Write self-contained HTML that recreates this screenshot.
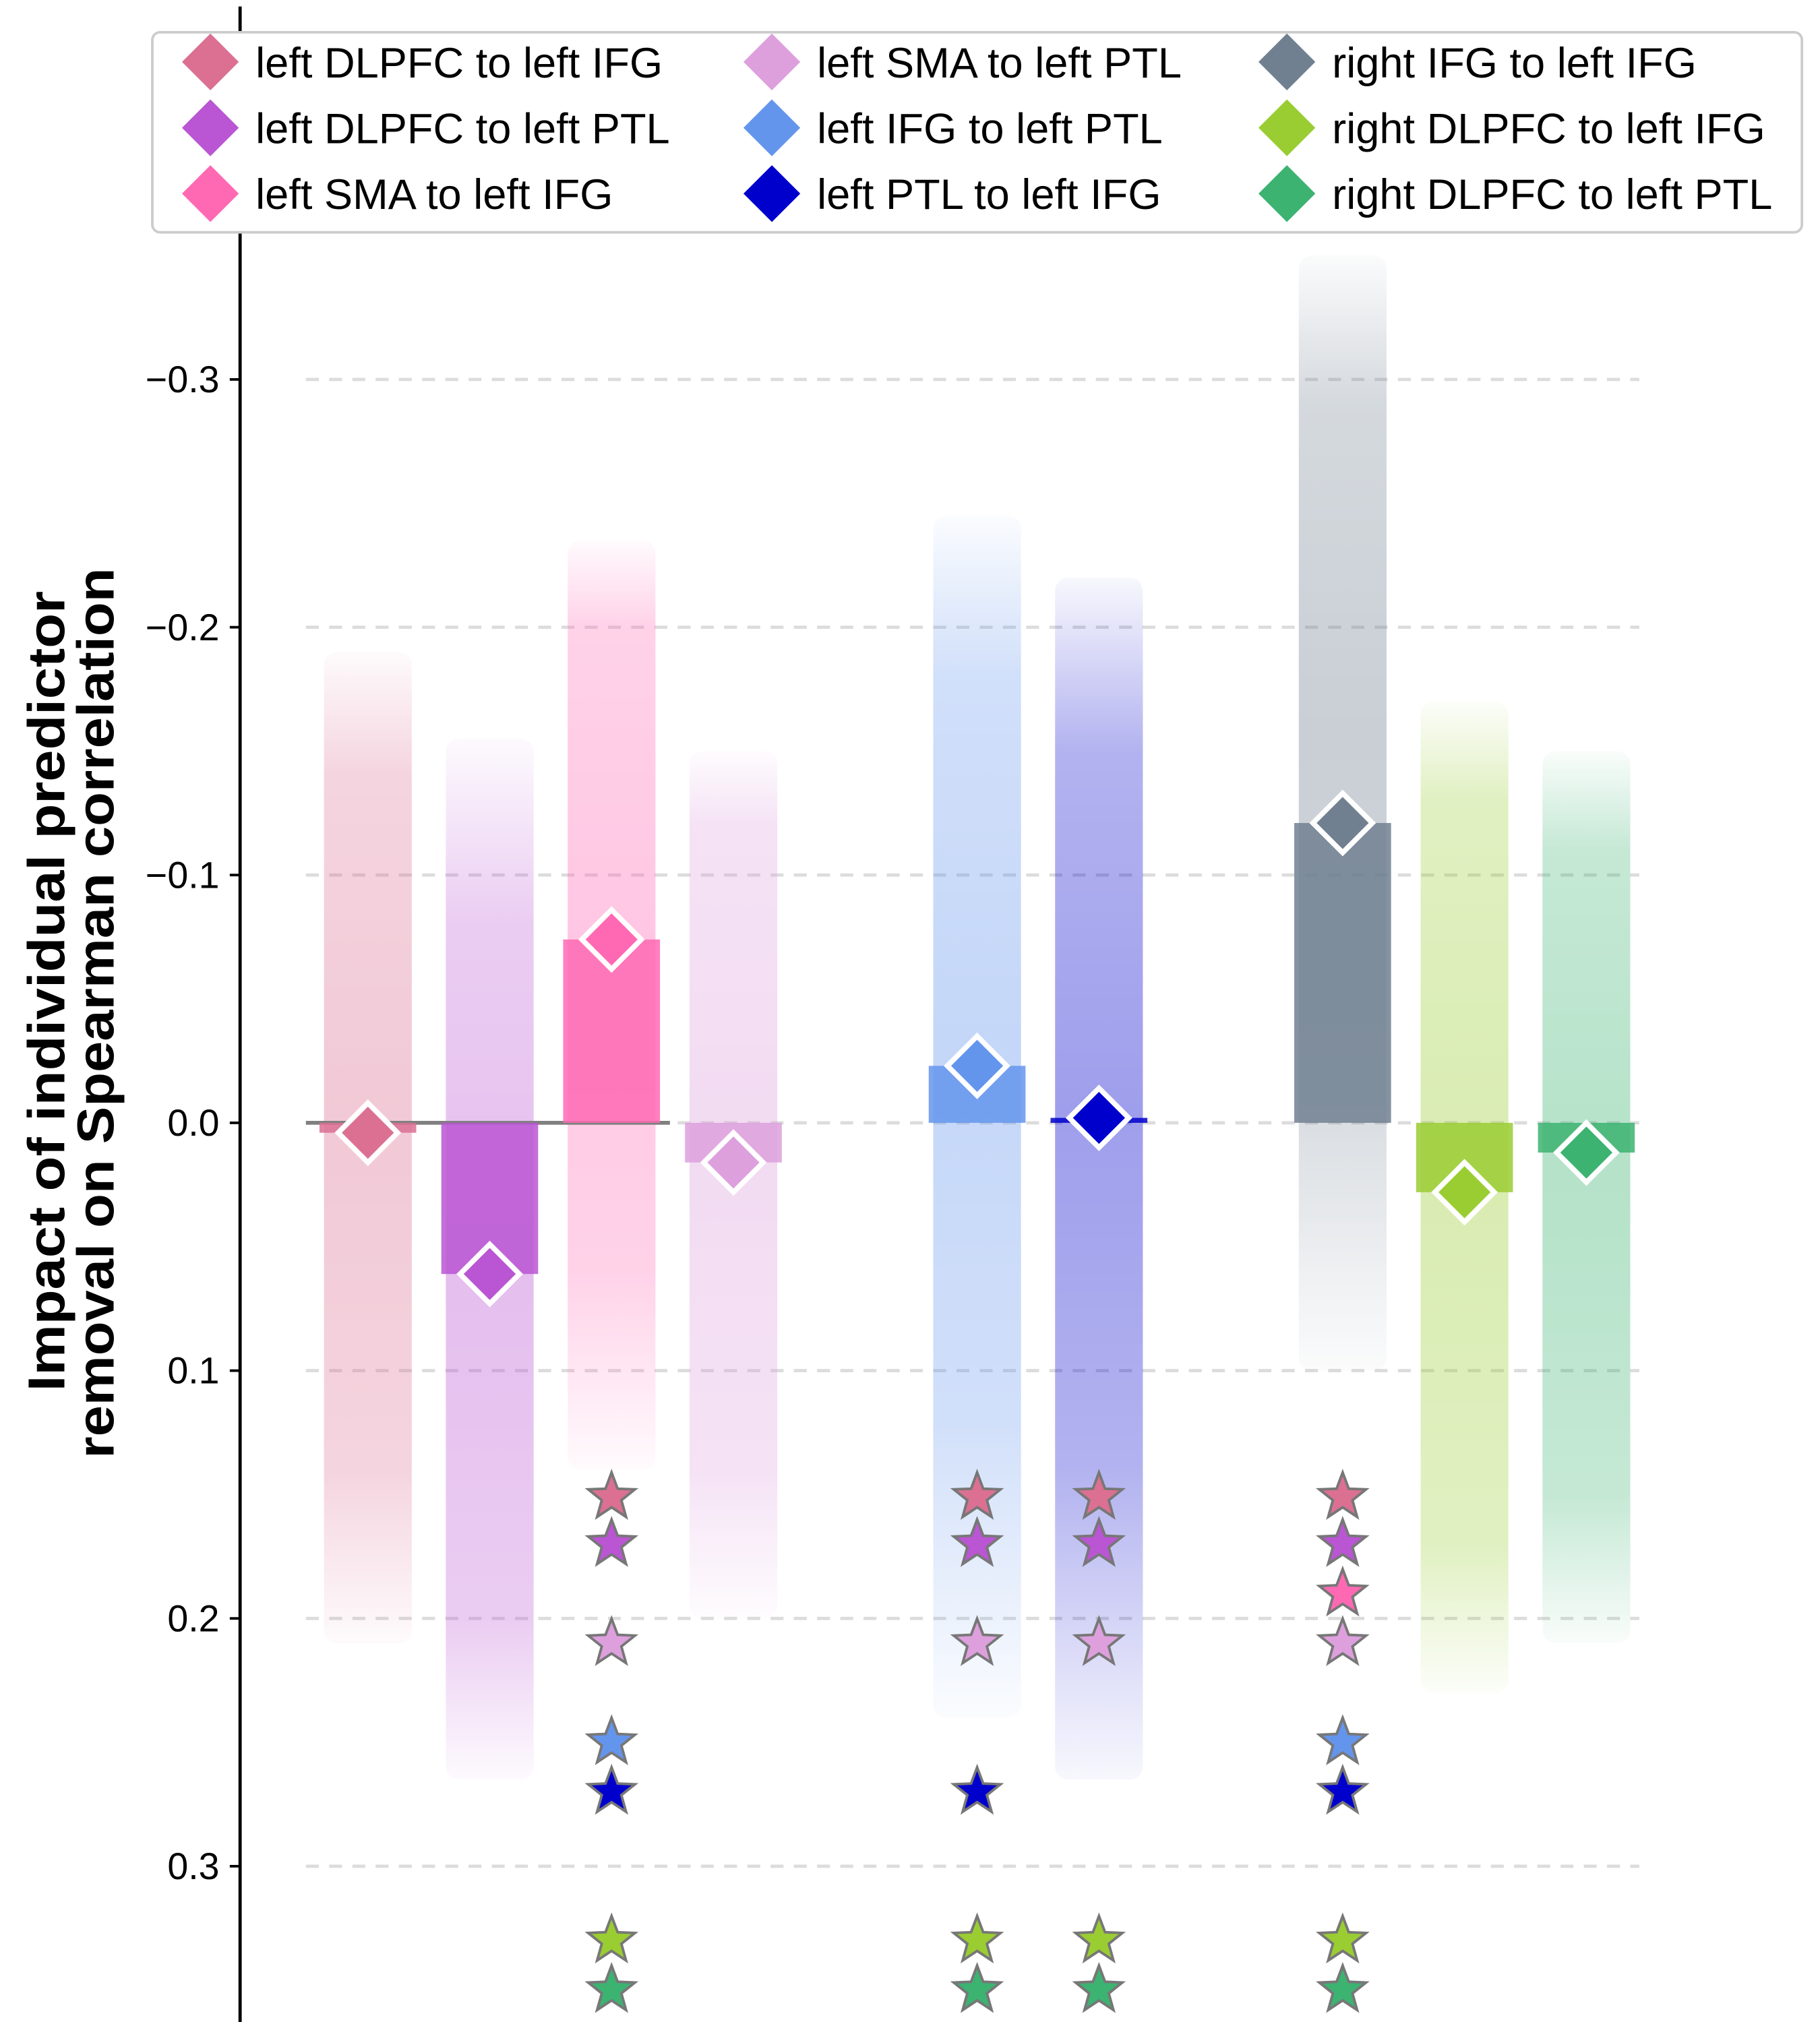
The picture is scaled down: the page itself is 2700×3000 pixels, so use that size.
<!DOCTYPE html>
<html><head><meta charset="utf-8"><style>
html,body{margin:0;padding:0;background:#fff}
svg{display:block}
text{font-family:"Liberation Sans",sans-serif}
</style></head><body>
<svg id="chart" width="2700" height="3000" viewBox="0 0 1410 1566.7" preserveAspectRatio="none" xmlns="http://www.w3.org/2000/svg">
<g id="grid"></g>
<g id="dists"></g>
<g id="bars"></g>
<g id="stars"></g>
<g id="axis"></g>
<g id="legend"></g>
<text transform="translate(50,768) rotate(-90)" text-anchor="middle" font-size="40" font-weight="bold" textLength="620" lengthAdjust="spacingAndGlyphs">Impact of individual predictor</text>
<text transform="translate(88,785) rotate(-90)" text-anchor="middle" font-size="40" font-weight="bold" textLength="690" lengthAdjust="spacingAndGlyphs">removal on Spearman correlation</text>
</svg>
<script>
const categories = ["left DLPFC to left IFG","left DLPFC to left PTL","left SMA to left IFG","left SMA to left PTL","left IFG to left PTL","left PTL to left IFG","right IFG to left IFG","right DLPFC to left IFG","right DLPFC to left PTL"];
const colors = ["#db7093","#ba55d3","#ff69b4","#dda0dd","#6495ed","#0000cd","#708090","#9acd32","#3cb371"];
const slots = [0,1,2,3,5,6,8,9,10];
const means = [0.004,0.061,-0.074,0.016,-0.023,-0.002,-0.121,0.028,0.012];
const distMin = [-0.19,-0.155,-0.235,-0.15,-0.245,-0.22,-0.35,-0.17,-0.15];
const distMax = [0.21,0.265,0.14,0.2,0.24,0.265,0.1,0.23,0.21];
const coreMin = [-0.14,-0.08,-0.2,-0.12,-0.18,-0.15,-0.29,-0.13,-0.11];
const coreMax = [0.14,0.2,0.06,0.14,0.12,0.14,-0.02,0.17,0.15];
const starCols = [2,4,5,6];
const starSets = [[0,1,3,4,5,7,8],[0,1,3,5,7,8],[0,1,3,7,8],[0,1,2,3,4,5,7,8]];
const starVals = [0.151,0.17,0.19,0.21,0.25,0.27,0.31,0.33,0.35];
const yTicks = [-0.3,-0.2,-0.1,0,0.1,0.2,0.3];
const yTickLabels = ["\u22120.3","\u22120.2","\u22120.1","0.0","0.1","0.2","0.3"];

const NS="http://www.w3.org/2000/svg";
const y = v => 870 + v*1920;
const x = s => 285 + s*94.4;
function mk(tag, attrs, parent){const e=document.createElementNS(NS,tag);for(const k in attrs)e.setAttribute(k,attrs[k]);parent.appendChild(e);return e;}
const G=id=>document.getElementById(id);

yTicks.forEach((t,i)=>{
  const gl=mk('line',{x1:237,x2:1270,y1:y(t),y2:y(t),stroke:'#dcdcdc','stroke-width':2.5,'stroke-dasharray':'10,8'},G('grid'));
  
  
  const tk=mk('line',{x1:178,x2:186,y1:y(t),y2:y(t),stroke:'#000','stroke-width':2},G('axis'));
  
  
  const tl=mk('text',{x:170,y:y(t)+10,'text-anchor':'end','font-size':29},G('axis'));
  tl.textContent=yTickLabels[i];
  
  
});
const ax=mk('line',{x1:186,x2:186,y1:5,y2:1567,stroke:'#000','stroke-width':2.5},G('axis'));



const defs=mk('defs',{},G('chart'));
categories.forEach((c,i)=>{
  const cx=x(slots[i]);
  const lo=y(distMin[i]),hi=y(distMax[i]);
  const gr=mk('linearGradient',{id:'g'+i,x1:0,y1:0,x2:0,y2:1},defs);
  const f1=(y(coreMin[i])-lo)/(hi-lo),f2=(y(coreMax[i])-lo)/(hi-lo);
  mk('stop',{offset:0,'stop-color':colors[i],'stop-opacity':0.03},gr);
  mk('stop',{offset:f1,'stop-color':colors[i],'stop-opacity':0.3},gr);
  mk('stop',{offset:(f1+f2)/2,'stop-color':colors[i],'stop-opacity':0.38},gr);
  mk('stop',{offset:f2,'stop-color':colors[i],'stop-opacity':0.3},gr);
  mk('stop',{offset:1,'stop-color':colors[i],'stop-opacity':0.03},gr);
  const d=mk('rect',{x:cx-34,y:lo,width:68,height:hi-lo,fill:'url(#g'+i+')',rx:10},G('dists'));
  
  
});
const zl=mk('line',{x1:237,x2:519,y1:870,y2:870,stroke:'#808080','stroke-width':3},G('bars'));


categories.forEach((c,i)=>{
  const cx=x(slots[i]);
  const y0=Math.min(y(0),y(means[i])),h=Math.max(Math.abs(y(means[i])-y(0)),3);
  const b=mk('rect',{x:cx-37.5,y:y0,width:75,height:h,fill:colors[i],opacity:0.85},G('bars'));
  
  
  const my=y(means[i]);
  const dm=mk('polygon',{points:`${cx},${my-23} ${cx+23},${my} ${cx},${my+23} ${cx-23},${my}`,fill:colors[i],stroke:'#fff','stroke-width':4},G('bars'));
  
  
});
function starPts(cx,cy,R){const r=R*0.42;let p=[];for(let k=0;k<10;k++){const a=-Math.PI/2+k*Math.PI/5;const rr=k%2?r:R;p.push((cx+rr*Math.cos(a)).toFixed(1)+','+(cy+rr*Math.sin(a)).toFixed(1));}return p.join(' ');}
starCols.forEach((ci,j)=>{
  starSets[j].forEach(k=>{
    const s=mk('polygon',{points:starPts(x(slots[ci]),y(starVals[k]),19),fill:colors[k],stroke:'#777','stroke-width':2},G('stars'));
    
    
  });
});
const lb=mk('rect',{x:118,y:25,width:1278,height:155,rx:6,fill:'#fff',stroke:'#ccc','stroke-width':2},G('legend'));


const lx=[163,598,997];const ly=[48,99,150];
categories.forEach((c,i)=>{
  const col=Math.floor(i/3),row=i%3;const cx=lx[col],cy=ly[row];
  const g=mk('g',{},G('legend'));
  
  
  mk('polygon',{points:`${cx},${cy-22} ${cx+22},${cy} ${cx},${cy+22} ${cx-22},${cy}`,fill:colors[i]},g);
  const t=mk('text',{x:cx+35,y:cy+12,'font-size':33},g);
  t.textContent=c;
});
</script>
</body></html>
